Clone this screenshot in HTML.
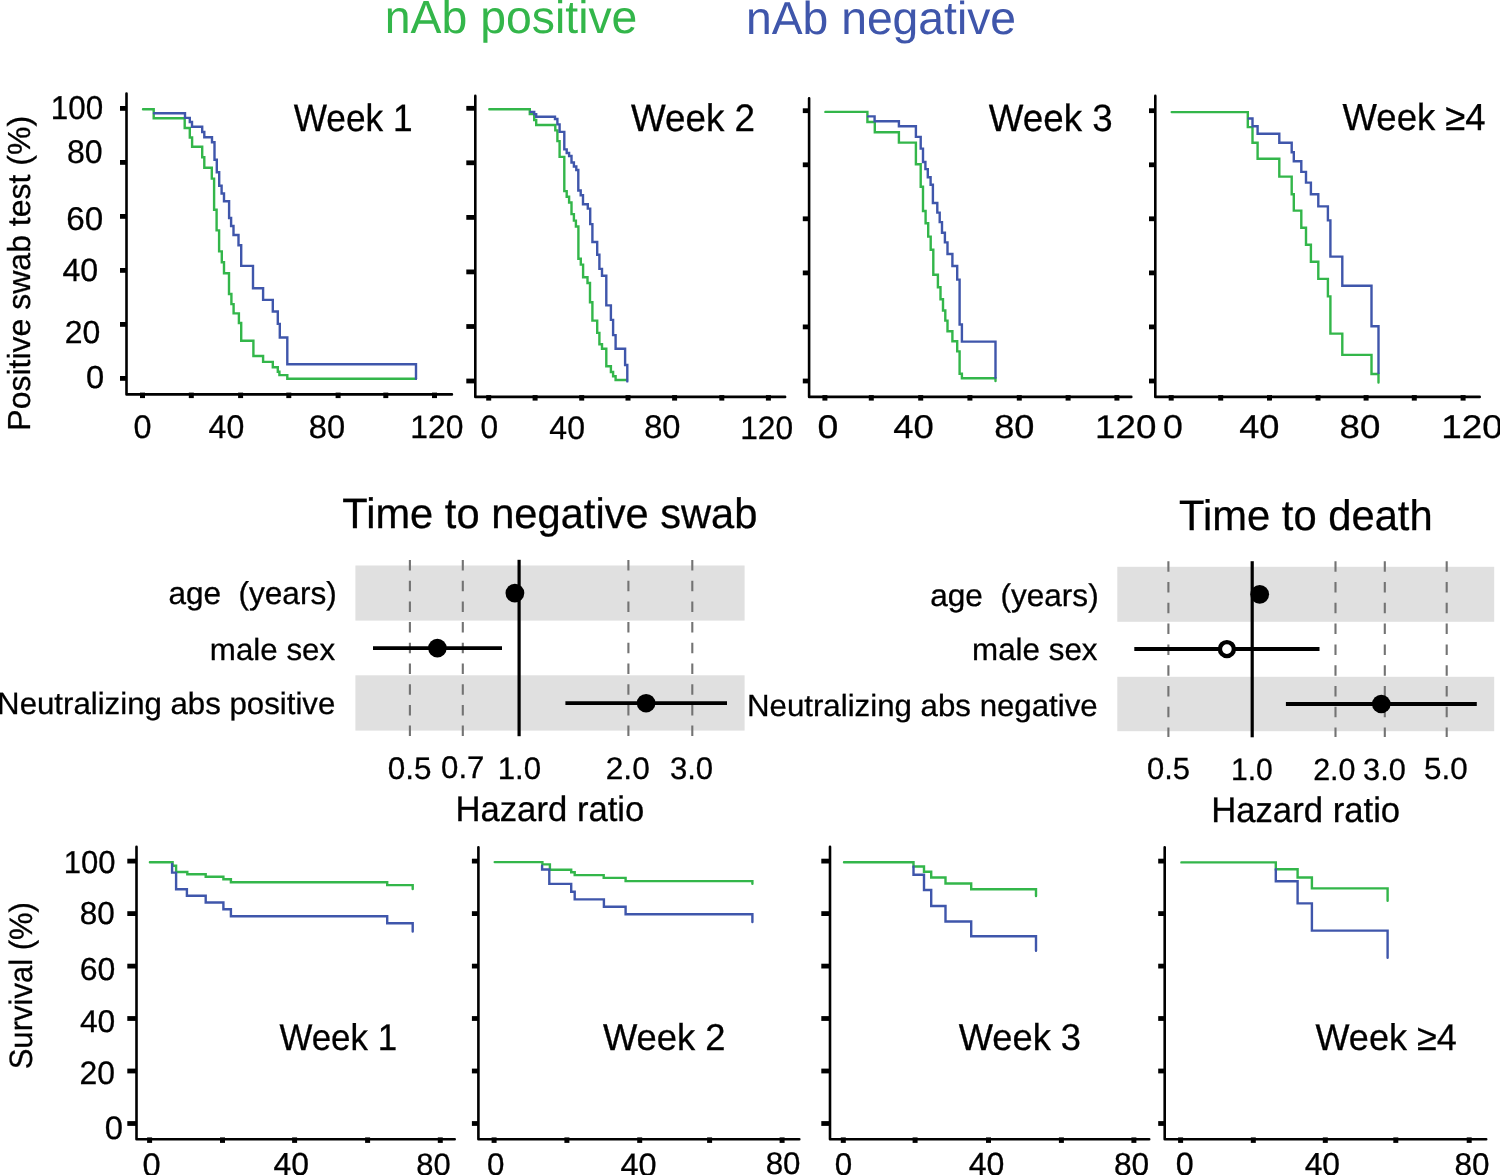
<!DOCTYPE html>
<html><head><meta charset="utf-8"><style>
html,body{margin:0;padding:0;background:#fff;width:1500px;height:1175px;overflow:hidden}
svg{display:block;will-change:transform}
text{font-family:"Liberation Sans",sans-serif;text-rendering:geometricPrecision}
</style></head><body>
<svg width="1500" height="1175" viewBox="0 0 1500 1175">
<path d="M126.5,93.6 L126.5,394.4 L451.9,394.4" fill="none" stroke="#000" stroke-width="2.6" stroke-linejoin="round" stroke-linecap="round"/>
<line x1="120" y1="108.4" x2="126.5" y2="108.4" stroke="#000" stroke-width="4.8" stroke-linecap="butt"/>
<line x1="120" y1="162.4" x2="126.5" y2="162.4" stroke="#000" stroke-width="4.8" stroke-linecap="butt"/>
<line x1="120" y1="216.4" x2="126.5" y2="216.4" stroke="#000" stroke-width="4.8" stroke-linecap="butt"/>
<line x1="120" y1="270.4" x2="126.5" y2="270.4" stroke="#000" stroke-width="4.8" stroke-linecap="butt"/>
<line x1="120" y1="324.4" x2="126.5" y2="324.4" stroke="#000" stroke-width="4.8" stroke-linecap="butt"/>
<line x1="120" y1="378.4" x2="126.5" y2="378.4" stroke="#000" stroke-width="4.8" stroke-linecap="butt"/>
<line x1="142.5" y1="392.6" x2="142.5" y2="398.1" stroke="#000" stroke-width="5.0" stroke-linecap="butt"/>
<line x1="191.3" y1="392.6" x2="191.3" y2="398.1" stroke="#000" stroke-width="5.0" stroke-linecap="butt"/>
<line x1="240.6" y1="392.6" x2="240.6" y2="398.1" stroke="#000" stroke-width="5.0" stroke-linecap="butt"/>
<line x1="288.8" y1="392.6" x2="288.8" y2="398.1" stroke="#000" stroke-width="5.0" stroke-linecap="butt"/>
<line x1="338.1" y1="392.6" x2="338.1" y2="398.1" stroke="#000" stroke-width="5.0" stroke-linecap="butt"/>
<line x1="385.8" y1="392.6" x2="385.8" y2="398.1" stroke="#000" stroke-width="5.0" stroke-linecap="butt"/>
<line x1="434.5" y1="392.6" x2="434.5" y2="398.1" stroke="#000" stroke-width="5.0" stroke-linecap="butt"/>
<path d="M475.3,95.89999999999999 L475.3,396.9 L785.1,396.9" fill="none" stroke="#000" stroke-width="2.6" stroke-linejoin="round" stroke-linecap="round"/>
<line x1="466.3" y1="108.3" x2="475.3" y2="108.3" stroke="#000" stroke-width="4.8" stroke-linecap="butt"/>
<line x1="466.3" y1="162.8" x2="475.3" y2="162.8" stroke="#000" stroke-width="4.8" stroke-linecap="butt"/>
<line x1="466.3" y1="217.4" x2="475.3" y2="217.4" stroke="#000" stroke-width="4.8" stroke-linecap="butt"/>
<line x1="466.3" y1="271.9" x2="475.3" y2="271.9" stroke="#000" stroke-width="4.8" stroke-linecap="butt"/>
<line x1="466.3" y1="326.5" x2="475.3" y2="326.5" stroke="#000" stroke-width="4.8" stroke-linecap="butt"/>
<line x1="466.3" y1="381" x2="475.3" y2="381" stroke="#000" stroke-width="4.8" stroke-linecap="butt"/>
<line x1="488.7" y1="395.1" x2="488.7" y2="400.6" stroke="#000" stroke-width="5.0" stroke-linecap="butt"/>
<line x1="535.1" y1="395.1" x2="535.1" y2="400.6" stroke="#000" stroke-width="5.0" stroke-linecap="butt"/>
<line x1="581.7" y1="395.1" x2="581.7" y2="400.6" stroke="#000" stroke-width="5.0" stroke-linecap="butt"/>
<line x1="628" y1="395.1" x2="628" y2="400.6" stroke="#000" stroke-width="5.0" stroke-linecap="butt"/>
<line x1="674.6" y1="395.1" x2="674.6" y2="400.6" stroke="#000" stroke-width="5.0" stroke-linecap="butt"/>
<line x1="721.8" y1="395.1" x2="721.8" y2="400.6" stroke="#000" stroke-width="5.0" stroke-linecap="butt"/>
<line x1="768.4" y1="395.1" x2="768.4" y2="400.6" stroke="#000" stroke-width="5.0" stroke-linecap="butt"/>
<path d="M809.1,98.2 L809.1,396.9 L1131.3,396.9" fill="none" stroke="#000" stroke-width="2.6" stroke-linejoin="round" stroke-linecap="round"/>
<line x1="802.8" y1="110.7" x2="809.1" y2="110.7" stroke="#000" stroke-width="4.8" stroke-linecap="butt"/>
<line x1="802.8" y1="164.8" x2="809.1" y2="164.8" stroke="#000" stroke-width="4.8" stroke-linecap="butt"/>
<line x1="802.8" y1="218.8" x2="809.1" y2="218.8" stroke="#000" stroke-width="4.8" stroke-linecap="butt"/>
<line x1="802.8" y1="272.9" x2="809.1" y2="272.9" stroke="#000" stroke-width="4.8" stroke-linecap="butt"/>
<line x1="802.8" y1="326.9" x2="809.1" y2="326.9" stroke="#000" stroke-width="4.8" stroke-linecap="butt"/>
<line x1="802.8" y1="381" x2="809.1" y2="381" stroke="#000" stroke-width="4.8" stroke-linecap="butt"/>
<line x1="824.9" y1="395.1" x2="824.9" y2="400.6" stroke="#000" stroke-width="5.0" stroke-linecap="butt"/>
<line x1="871.3" y1="395.1" x2="871.3" y2="400.6" stroke="#000" stroke-width="5.0" stroke-linecap="butt"/>
<line x1="920.7" y1="395.1" x2="920.7" y2="400.6" stroke="#000" stroke-width="5.0" stroke-linecap="butt"/>
<line x1="969.9" y1="395.1" x2="969.9" y2="400.6" stroke="#000" stroke-width="5.0" stroke-linecap="butt"/>
<line x1="1019.3" y1="395.1" x2="1019.3" y2="400.6" stroke="#000" stroke-width="5.0" stroke-linecap="butt"/>
<line x1="1068.1" y1="395.1" x2="1068.1" y2="400.6" stroke="#000" stroke-width="5.0" stroke-linecap="butt"/>
<line x1="1116.9" y1="395.1" x2="1116.9" y2="400.6" stroke="#000" stroke-width="5.0" stroke-linecap="butt"/>
<path d="M1155.3,95.89999999999999 L1155.3,396.9 L1479.7,396.9" fill="none" stroke="#000" stroke-width="2.6" stroke-linejoin="round" stroke-linecap="round"/>
<line x1="1149" y1="110.7" x2="1155.3" y2="110.7" stroke="#000" stroke-width="4.8" stroke-linecap="butt"/>
<line x1="1149" y1="164.8" x2="1155.3" y2="164.8" stroke="#000" stroke-width="4.8" stroke-linecap="butt"/>
<line x1="1149" y1="218.8" x2="1155.3" y2="218.8" stroke="#000" stroke-width="4.8" stroke-linecap="butt"/>
<line x1="1149" y1="272.9" x2="1155.3" y2="272.9" stroke="#000" stroke-width="4.8" stroke-linecap="butt"/>
<line x1="1149" y1="326.9" x2="1155.3" y2="326.9" stroke="#000" stroke-width="4.8" stroke-linecap="butt"/>
<line x1="1149" y1="381" x2="1155.3" y2="381" stroke="#000" stroke-width="4.8" stroke-linecap="butt"/>
<line x1="1171.2" y1="395.1" x2="1171.2" y2="400.6" stroke="#000" stroke-width="5.0" stroke-linecap="butt"/>
<line x1="1220.7" y1="395.1" x2="1220.7" y2="400.6" stroke="#000" stroke-width="5.0" stroke-linecap="butt"/>
<line x1="1269.5" y1="395.1" x2="1269.5" y2="400.6" stroke="#000" stroke-width="5.0" stroke-linecap="butt"/>
<line x1="1318" y1="395.1" x2="1318" y2="400.6" stroke="#000" stroke-width="5.0" stroke-linecap="butt"/>
<line x1="1366.1" y1="395.1" x2="1366.1" y2="400.6" stroke="#000" stroke-width="5.0" stroke-linecap="butt"/>
<line x1="1414.3" y1="395.1" x2="1414.3" y2="400.6" stroke="#000" stroke-width="5.0" stroke-linecap="butt"/>
<line x1="1463.1" y1="395.1" x2="1463.1" y2="400.6" stroke="#000" stroke-width="5.0" stroke-linecap="butt"/>
<path d="M136.5,846.6999999999999 L136.5,1139.2 L454.7,1139.2" fill="none" stroke="#000" stroke-width="2.6" stroke-linejoin="round" stroke-linecap="round"/>
<line x1="127.3" y1="861.1" x2="136.5" y2="861.1" stroke="#000" stroke-width="4.8" stroke-linecap="butt"/>
<line x1="127.3" y1="913.6" x2="136.5" y2="913.6" stroke="#000" stroke-width="4.8" stroke-linecap="butt"/>
<line x1="127.3" y1="966.1" x2="136.5" y2="966.1" stroke="#000" stroke-width="4.8" stroke-linecap="butt"/>
<line x1="127.3" y1="1018.5" x2="136.5" y2="1018.5" stroke="#000" stroke-width="4.8" stroke-linecap="butt"/>
<line x1="127.3" y1="1071" x2="136.5" y2="1071" stroke="#000" stroke-width="4.8" stroke-linecap="butt"/>
<line x1="127.3" y1="1123.5" x2="136.5" y2="1123.5" stroke="#000" stroke-width="4.8" stroke-linecap="butt"/>
<line x1="149.6" y1="1137.4" x2="149.6" y2="1142.9" stroke="#000" stroke-width="5.0" stroke-linecap="butt"/>
<line x1="222.5" y1="1137.4" x2="222.5" y2="1142.9" stroke="#000" stroke-width="5.0" stroke-linecap="butt"/>
<line x1="294.6" y1="1137.4" x2="294.6" y2="1142.9" stroke="#000" stroke-width="5.0" stroke-linecap="butt"/>
<line x1="367.6" y1="1137.4" x2="367.6" y2="1142.9" stroke="#000" stroke-width="5.0" stroke-linecap="butt"/>
<line x1="440.3" y1="1137.4" x2="440.3" y2="1142.9" stroke="#000" stroke-width="5.0" stroke-linecap="butt"/>
<path d="M478.4,847.3 L478.4,1139.2 L799.3000000000001,1139.2" fill="none" stroke="#000" stroke-width="2.6" stroke-linejoin="round" stroke-linecap="round"/>
<line x1="471.9" y1="861.1" x2="478.4" y2="861.1" stroke="#000" stroke-width="4.8" stroke-linecap="butt"/>
<line x1="471.9" y1="913.6" x2="478.4" y2="913.6" stroke="#000" stroke-width="4.8" stroke-linecap="butt"/>
<line x1="471.9" y1="966.1" x2="478.4" y2="966.1" stroke="#000" stroke-width="4.8" stroke-linecap="butt"/>
<line x1="471.9" y1="1018.5" x2="478.4" y2="1018.5" stroke="#000" stroke-width="4.8" stroke-linecap="butt"/>
<line x1="471.9" y1="1071" x2="478.4" y2="1071" stroke="#000" stroke-width="4.8" stroke-linecap="butt"/>
<line x1="471.9" y1="1123.5" x2="478.4" y2="1123.5" stroke="#000" stroke-width="4.8" stroke-linecap="butt"/>
<line x1="494.1" y1="1137.4" x2="494.1" y2="1142.9" stroke="#000" stroke-width="5.0" stroke-linecap="butt"/>
<line x1="566.9" y1="1137.4" x2="566.9" y2="1142.9" stroke="#000" stroke-width="5.0" stroke-linecap="butt"/>
<line x1="639.7" y1="1137.4" x2="639.7" y2="1142.9" stroke="#000" stroke-width="5.0" stroke-linecap="butt"/>
<line x1="709.6" y1="1137.4" x2="709.6" y2="1142.9" stroke="#000" stroke-width="5.0" stroke-linecap="butt"/>
<line x1="782.1" y1="1137.4" x2="782.1" y2="1142.9" stroke="#000" stroke-width="5.0" stroke-linecap="butt"/>
<path d="M830.0,846.6999999999999 L830.0,1139.2 L1149.2,1139.2" fill="none" stroke="#000" stroke-width="2.6" stroke-linejoin="round" stroke-linecap="round"/>
<line x1="821.3" y1="861.1" x2="830.0" y2="861.1" stroke="#000" stroke-width="4.8" stroke-linecap="butt"/>
<line x1="821.3" y1="913.6" x2="830.0" y2="913.6" stroke="#000" stroke-width="4.8" stroke-linecap="butt"/>
<line x1="821.3" y1="966.1" x2="830.0" y2="966.1" stroke="#000" stroke-width="4.8" stroke-linecap="butt"/>
<line x1="821.3" y1="1018.5" x2="830.0" y2="1018.5" stroke="#000" stroke-width="4.8" stroke-linecap="butt"/>
<line x1="821.3" y1="1071" x2="830.0" y2="1071" stroke="#000" stroke-width="4.8" stroke-linecap="butt"/>
<line x1="821.3" y1="1123.5" x2="830.0" y2="1123.5" stroke="#000" stroke-width="4.8" stroke-linecap="butt"/>
<line x1="843.3" y1="1137.4" x2="843.3" y2="1142.9" stroke="#000" stroke-width="5.0" stroke-linecap="butt"/>
<line x1="915.1" y1="1137.4" x2="915.1" y2="1142.9" stroke="#000" stroke-width="5.0" stroke-linecap="butt"/>
<line x1="988.5" y1="1137.4" x2="988.5" y2="1142.9" stroke="#000" stroke-width="5.0" stroke-linecap="butt"/>
<line x1="1061.4" y1="1137.4" x2="1061.4" y2="1142.9" stroke="#000" stroke-width="5.0" stroke-linecap="butt"/>
<line x1="1133.9" y1="1137.4" x2="1133.9" y2="1142.9" stroke="#000" stroke-width="5.0" stroke-linecap="butt"/>
<path d="M1164.7,847.3 L1164.7,1139.2 L1486.2,1139.2" fill="none" stroke="#000" stroke-width="2.6" stroke-linejoin="round" stroke-linecap="round"/>
<line x1="1158.2" y1="861.1" x2="1164.7" y2="861.1" stroke="#000" stroke-width="4.8" stroke-linecap="butt"/>
<line x1="1158.2" y1="913.6" x2="1164.7" y2="913.6" stroke="#000" stroke-width="4.8" stroke-linecap="butt"/>
<line x1="1158.2" y1="966.1" x2="1164.7" y2="966.1" stroke="#000" stroke-width="4.8" stroke-linecap="butt"/>
<line x1="1158.2" y1="1018.5" x2="1164.7" y2="1018.5" stroke="#000" stroke-width="4.8" stroke-linecap="butt"/>
<line x1="1158.2" y1="1071" x2="1164.7" y2="1071" stroke="#000" stroke-width="4.8" stroke-linecap="butt"/>
<line x1="1158.2" y1="1123.5" x2="1164.7" y2="1123.5" stroke="#000" stroke-width="4.8" stroke-linecap="butt"/>
<line x1="1180.6" y1="1137.4" x2="1180.6" y2="1142.9" stroke="#000" stroke-width="5.0" stroke-linecap="butt"/>
<line x1="1253.3" y1="1137.4" x2="1253.3" y2="1142.9" stroke="#000" stroke-width="5.0" stroke-linecap="butt"/>
<line x1="1325.3" y1="1137.4" x2="1325.3" y2="1142.9" stroke="#000" stroke-width="5.0" stroke-linecap="butt"/>
<line x1="1395.8" y1="1137.4" x2="1395.8" y2="1142.9" stroke="#000" stroke-width="5.0" stroke-linecap="butt"/>
<line x1="1469.2" y1="1137.4" x2="1469.2" y2="1142.9" stroke="#000" stroke-width="5.0" stroke-linecap="butt"/>
<path d="M143.0,109.3 L153.7,109.3 L153.7,118.2 L184.7,118.2 L184.7,128.0 L189.8,128.0 L189.8,137.5 L192.1,137.5 L192.1,146.7 L202.2,146.7 L202.2,157.2 L204.3,157.2 L204.3,167.7 L211.8,167.7 L211.8,178.6 L214.1,178.6 L214.1,209.8 L216.6,209.8 L216.6,230.4 L219.1,230.4 L219.1,251.4 L221.8,251.4 L221.8,262.3 L224.0,262.3 L224.0,273.3 L229.0,273.3 L229.0,294.0 L231.4,294.0 L231.4,304.1 L233.6,304.1 L233.6,313.4 L238.9,313.4 L238.9,323.0 L241.2,323.0 L241.2,340.8 L253.4,340.8 L253.4,356.0 L263.1,356.0 L263.1,361.9 L272.8,361.9 L272.8,367.2 L277.8,367.2 L277.8,371.8 L279.4,371.8 L279.4,375.1 L287.3,375.1 L287.3,378.8 L416.0,378.8" fill="none" stroke="#33b64a" stroke-width="2.4" stroke-linejoin="miter" stroke-linecap="round"/>
<path d="M154.0,113.3 L185.0,113.3 L185.0,117.9 L189.8,117.9 L189.8,122.0 L192.0,122.0 L192.0,126.8 L202.2,126.8 L202.2,132.0 L204.3,132.0 L204.3,137.2 L212.0,137.2 L212.0,142.3 L214.5,142.3 L214.5,159.8 L216.8,159.8 L216.8,172.3 L219.2,172.3 L219.2,185.8 L221.6,185.8 L221.6,193.5 L224.0,193.5 L224.0,201.3 L229.1,201.3 L229.1,218.0 L231.1,218.0 L231.1,226.0 L233.5,226.0 L233.5,235.0 L238.5,235.0 L238.5,245.2 L241.2,245.2 L241.2,265.9 L253.0,265.9 L253.0,288.3 L263.1,288.3 L263.1,299.9 L272.8,299.9 L272.8,311.5 L277.8,311.5 L277.8,323.9 L279.8,323.9 L279.8,337.5 L287.3,337.5 L287.3,364.3 L416.0,364.3 L416.0,378.8" fill="none" stroke="#3f56ab" stroke-width="2.4" stroke-linejoin="miter" stroke-linecap="round"/>
<path d="M489.3,109.3 L529.8,109.3 L529.8,114.1 L534.2,114.1 L534.2,120.0 L536.2,120.0 L536.2,125.0 L555.3,125.0 L555.3,130.4 L557.4,130.4 L557.4,141.1 L559.6,141.1 L559.6,156.9 L564.3,156.9 L564.3,191.1 L566.7,191.1 L566.7,196.7 L569.1,196.7 L569.1,202.5 L571.5,202.5 L571.5,214.1 L573.9,214.1 L573.9,220.6 L575.9,220.6 L575.9,226.5 L578.4,226.5 L578.4,258.8 L580.8,258.8 L580.8,264.6 L583.1,264.6 L583.1,277.2 L587.5,277.2 L587.5,283.0 L590.0,283.0 L590.0,302.2 L592.4,302.2 L592.4,320.6 L597.2,320.6 L597.2,332.9 L599.4,332.9 L599.4,344.2 L602.0,344.2 L602.0,348.8 L606.3,348.8 L606.3,366.2 L610.9,366.2 L610.9,372.0 L613.1,372.0 L613.1,376.3 L615.6,376.3 L615.6,380.0 L627.0,380.0" fill="none" stroke="#33b64a" stroke-width="2.4" stroke-linejoin="miter" stroke-linecap="round"/>
<path d="M530.6,111.9 L534.2,111.9 L534.2,114.1 L536.2,114.1 L536.2,116.7 L555.0,116.7 L555.0,119.0 L557.4,119.0 L557.4,124.4 L559.6,124.4 L559.6,131.9 L564.3,131.9 L564.3,149.4 L566.7,149.4 L566.7,153.0 L569.1,153.0 L569.1,156.0 L571.5,156.0 L571.5,162.5 L573.9,162.5 L573.9,166.5 L576.3,166.5 L576.3,170.0 L578.3,170.0 L578.3,190.5 L580.7,190.5 L580.7,195.3 L583.0,195.3 L583.0,204.2 L587.8,204.2 L587.8,208.6 L590.2,208.6 L590.2,224.1 L592.4,224.1 L592.4,242.0 L597.2,242.0 L597.2,254.7 L599.4,254.7 L599.4,268.9 L602.0,268.9 L602.0,275.7 L606.3,275.7 L606.3,305.4 L610.9,305.4 L610.9,319.9 L613.1,319.9 L613.1,335.1 L615.6,335.1 L615.6,348.8 L625.1,348.8 L625.1,365.0 L627.3,365.0 L627.3,381.4" fill="none" stroke="#3f56ab" stroke-width="2.4" stroke-linejoin="miter" stroke-linecap="round"/>
<path d="M825.4,111.9 L867.4,111.9 L867.4,122.0 L874.8,122.0 L874.8,132.2 L898.9,132.2 L898.9,142.6 L915.9,142.6 L915.9,164.3 L920.7,164.3 L920.7,186.7 L923.0,186.7 L923.0,211.0 L925.6,211.0 L925.6,223.3 L928.2,223.3 L928.2,236.6 L930.7,236.6 L930.7,249.7 L933.3,249.7 L933.3,274.7 L937.9,274.7 L937.9,287.3 L940.5,287.3 L940.5,299.3 L943.0,299.3 L943.0,310.5 L945.3,310.5 L945.3,320.6 L947.5,320.6 L947.5,331.2 L952.4,331.2 L952.4,341.3 L957.2,341.3 L957.2,351.4 L959.6,351.4 L959.6,373.7 L961.9,373.7 L961.9,378.2 L995.5,378.2 L995.5,381.0" fill="none" stroke="#33b64a" stroke-width="2.4" stroke-linejoin="miter" stroke-linecap="round"/>
<path d="M868.2,116.4 L874.6,116.4 L874.6,121.2 L898.9,121.2 L898.9,126.2 L915.9,126.2 L915.9,136.9 L920.7,136.9 L920.7,148.6 L923.0,148.6 L923.0,162.0 L925.4,162.0 L925.4,169.1 L927.8,169.1 L927.8,177.2 L930.6,177.2 L930.6,184.8 L932.9,184.8 L932.9,203.0 L937.3,203.0 L937.3,212.6 L939.7,212.6 L939.7,222.1 L942.0,222.1 L942.0,232.7 L944.9,232.7 L944.9,242.4 L947.5,242.4 L947.5,254.0 L952.4,254.0 L952.4,266.0 L957.2,266.0 L957.2,279.6 L959.6,279.6 L959.6,324.5 L961.9,324.5 L961.9,341.6 L995.5,341.6 L995.5,377.8" fill="none" stroke="#3f56ab" stroke-width="2.4" stroke-linejoin="miter" stroke-linecap="round"/>
<path d="M1171.7,112.1 L1247.8,112.1 L1247.8,127.1 L1252.5,127.1 L1252.5,142.8 L1257.6,142.8 L1257.6,158.7 L1279.3,158.7 L1279.3,176.6 L1291.7,176.6 L1291.7,194.3 L1293.8,194.3 L1293.8,210.6 L1301.3,210.6 L1301.3,227.7 L1306.0,227.7 L1306.0,244.7 L1310.9,244.7 L1310.9,261.7 L1318.3,261.7 L1318.3,278.9 L1327.9,278.9 L1327.9,296.4 L1330.4,296.4 L1330.4,333.6 L1342.3,333.6 L1342.3,354.9 L1371.5,354.9 L1371.5,374.0 L1378.5,374.0 L1378.5,382.6" fill="none" stroke="#33b64a" stroke-width="2.4" stroke-linejoin="miter" stroke-linecap="round"/>
<path d="M1248.7,118.5 L1252.5,118.5 L1252.5,126.2 L1257.6,126.2 L1257.6,133.8 L1279.3,133.8 L1279.3,142.8 L1291.7,142.8 L1291.7,152.3 L1293.8,152.3 L1293.8,161.3 L1301.3,161.3 L1301.3,171.9 L1306.0,171.9 L1306.0,182.6 L1310.9,182.6 L1310.9,194.3 L1318.3,194.3 L1318.3,206.4 L1327.9,206.4 L1327.9,220.4 L1330.4,220.4 L1330.4,256.6 L1342.3,256.6 L1342.3,285.7 L1371.5,285.7 L1371.5,326.2 L1378.5,326.2 L1378.5,373.0" fill="none" stroke="#3f56ab" stroke-width="2.4" stroke-linejoin="miter" stroke-linecap="round"/>
<path d="M149.9,862.3 L172.6,862.3 L172.6,865.7 L176.1,865.7 L176.1,872.0 L187.3,872.0 L187.3,874.2 L205.7,874.2 L205.7,876.8 L223.4,876.8 L223.4,879.3 L230.9,879.3 L230.9,882.2 L387.2,882.2 L387.2,885.1 L412.7,885.1 L412.7,889.1" fill="none" stroke="#33b64a" stroke-width="2.4" stroke-linejoin="miter" stroke-linecap="round"/>
<path d="M172.1,864.0 L172.1,872.6 L176.1,872.6 L176.1,889.2 L186.9,889.2 L186.9,895.7 L205.7,895.7 L205.7,902.5 L223.4,902.5 L223.4,909.3 L230.9,909.3 L230.9,916.3 L387.2,916.3 L387.2,923.2 L412.7,923.2 L412.7,931.6" fill="none" stroke="#3f56ab" stroke-width="2.4" stroke-linejoin="miter" stroke-linecap="round"/>
<path d="M494.7,862.1 L542.4,862.1 L542.4,864.4 L549.9,864.4 L549.9,869.7 L571.2,869.7 L571.2,872.2 L574.7,872.2 L574.7,875.1 L603.7,875.1 L603.7,877.9 L625.6,877.9 L625.6,881.1 L752.4,881.1 L752.4,883.8" fill="none" stroke="#33b64a" stroke-width="2.4" stroke-linejoin="miter" stroke-linecap="round"/>
<path d="M542.1,865.8 L542.1,869.5 L549.3,869.5 L549.3,883.9 L571.2,883.9 L571.2,891.7 L574.7,891.7 L574.7,899.4 L603.9,899.4 L603.9,906.7 L625.6,906.7 L625.6,914.3 L752.4,914.3 L752.4,922.0" fill="none" stroke="#3f56ab" stroke-width="2.4" stroke-linejoin="miter" stroke-linecap="round"/>
<path d="M844.0,862.2 L913.5,862.2 L913.5,866.5 L924.0,866.5 L924.0,871.8 L931.2,871.8 L931.2,877.5 L945.5,877.5 L945.5,883.5 L971.2,883.5 L971.2,889.2 L1036.0,889.2 L1036.0,896.0" fill="none" stroke="#33b64a" stroke-width="2.4" stroke-linejoin="miter" stroke-linecap="round"/>
<path d="M913.5,866.5 L913.5,874.8 L924.0,874.8 L924.0,890.0 L931.2,890.0 L931.2,906.0 L945.5,906.0 L945.5,921.5 L971.2,921.5 L971.2,936.2 L1036.0,936.2 L1036.0,950.8" fill="none" stroke="#3f56ab" stroke-width="2.4" stroke-linejoin="miter" stroke-linecap="round"/>
<path d="M1181.4,862.4 L1275.8,862.4 L1275.8,869.3 L1297.6,869.3 L1297.6,877.5 L1311.9,877.5 L1311.9,888.4 L1387.6,888.4 L1387.6,900.7" fill="none" stroke="#33b64a" stroke-width="2.4" stroke-linejoin="miter" stroke-linecap="round"/>
<path d="M1275.8,869.3 L1275.8,881.3 L1297.6,881.3 L1297.6,903.4 L1311.9,903.4 L1311.9,930.6 L1387.6,930.6 L1387.6,957.8" fill="none" stroke="#3f56ab" stroke-width="2.4" stroke-linejoin="miter" stroke-linecap="round"/>
<rect x="355.4" y="565.5" width="389.2" height="55.1" fill="#e0e0e0"/>
<rect x="355.4" y="675.3" width="389.2" height="55.3" fill="#e0e0e0"/>
<line x1="409.9" y1="560" x2="409.9" y2="736" stroke="#737373" stroke-width="2.1" stroke-linecap="butt" stroke-dasharray="10.5 10.2"/>
<line x1="462.8" y1="560" x2="462.8" y2="736" stroke="#737373" stroke-width="2.1" stroke-linecap="butt" stroke-dasharray="10.5 10.2"/>
<line x1="628.4" y1="560" x2="628.4" y2="736" stroke="#737373" stroke-width="2.1" stroke-linecap="butt" stroke-dasharray="10.5 10.2"/>
<line x1="692.3" y1="560" x2="692.3" y2="736" stroke="#737373" stroke-width="2.1" stroke-linecap="butt" stroke-dasharray="10.5 10.2"/>
<line x1="519.1" y1="559.8" x2="519.1" y2="736.2" stroke="#000" stroke-width="3.2" stroke-linecap="butt"/>
<line x1="373" y1="648.1" x2="502" y2="648.1" stroke="#000" stroke-width="3.8" stroke-linecap="butt"/>
<line x1="565.4" y1="703.2" x2="727" y2="703.2" stroke="#000" stroke-width="3.8" stroke-linecap="butt"/>
<circle cx="514.9" cy="593.1" r="9.4" fill="#000"/>
<circle cx="437.4" cy="648.1" r="9.3" fill="#000"/>
<circle cx="646.1" cy="703.2" r="9.3" fill="#000"/>
<rect x="1117.3" y="566.8" width="376.9" height="55.0" fill="#e0e0e0"/>
<rect x="1117.3" y="676.8" width="376.9" height="54.4" fill="#e0e0e0"/>
<line x1="1168.4" y1="561.2" x2="1168.4" y2="737" stroke="#737373" stroke-width="2.1" stroke-linecap="butt" stroke-dasharray="10.5 10.3"/>
<line x1="1335.5" y1="561.2" x2="1335.5" y2="737" stroke="#737373" stroke-width="2.1" stroke-linecap="butt" stroke-dasharray="10.5 10.3"/>
<line x1="1384.8" y1="561.2" x2="1384.8" y2="737" stroke="#737373" stroke-width="2.1" stroke-linecap="butt" stroke-dasharray="10.5 10.3"/>
<line x1="1446.7" y1="561.2" x2="1446.7" y2="737" stroke="#737373" stroke-width="2.1" stroke-linecap="butt" stroke-dasharray="10.5 10.3"/>
<line x1="1252.2" y1="561.2" x2="1252.2" y2="737.3" stroke="#000" stroke-width="3.2" stroke-linecap="butt"/>
<line x1="1134.3" y1="649" x2="1319.5" y2="649" stroke="#000" stroke-width="4" stroke-linecap="butt"/>
<line x1="1285.9" y1="704" x2="1476.8" y2="704" stroke="#000" stroke-width="4" stroke-linecap="butt"/>
<circle cx="1259.7" cy="594.3" r="9.4" fill="#000"/>
<circle cx="1226.9" cy="649.1" r="7" fill="#fff" stroke="#000" stroke-width="4.4"/>
<circle cx="1381.3" cy="704" r="9.3" fill="#000"/>
<text transform="translate(384.77,33.33) scale(0.9867,0.9867)" font-size="47.00" fill="#33b64a" xml:space="preserve">nAb positive</text>
<text transform="translate(745.96,33.89) scale(0.9845,0.9845)" font-size="47.00" fill="#3f56ab" xml:space="preserve">nAb negative</text>
<text transform="translate(30.49,430.64) rotate(-90) scale(0.9998,0.9948)" font-size="32.00" fill="#000" stroke="#000" stroke-width="0.300" xml:space="preserve">Positive swab test (%)</text>
<text transform="translate(50.85,118.62) scale(0.9501,1.0029)" font-size="33.00" fill="#000" stroke="#000" stroke-width="0.299" xml:space="preserve">100</text>
<text transform="translate(66.92,162.88) scale(0.9742,0.9957)" font-size="33.00" fill="#000" stroke="#000" stroke-width="0.301" xml:space="preserve">80</text>
<text transform="translate(66.32,230.39) scale(1.0062,0.9973)" font-size="33.00" fill="#000" stroke="#000" stroke-width="0.298" xml:space="preserve">60</text>
<text transform="translate(62.48,281.08) scale(0.9747,0.9735)" font-size="33.00" fill="#000" stroke="#000" stroke-width="0.308" xml:space="preserve">40</text>
<text transform="translate(64.76,342.88) scale(0.9693,0.9638)" font-size="33.00" fill="#000" stroke="#000" stroke-width="0.310" xml:space="preserve">20</text>
<text transform="translate(85.93,387.79) scale(0.9925,0.9607)" font-size="33.00" fill="#000" stroke="#000" stroke-width="0.302" xml:space="preserve">0</text>
<text transform="translate(133.39,438.00) scale(0.9808,0.9882)" font-size="33.00" fill="#000" stroke="#000" stroke-width="0.304" xml:space="preserve">0</text>
<text transform="translate(208.54,438.45) scale(0.9728,0.9941)" font-size="33.00" fill="#000" stroke="#000" stroke-width="0.302" xml:space="preserve">40</text>
<text transform="translate(308.83,438.28) scale(0.9905,0.9852)" font-size="33.00" fill="#000" stroke="#000" stroke-width="0.303" xml:space="preserve">80</text>
<text transform="translate(410.36,438.46) scale(0.9644,0.9855)" font-size="33.00" fill="#000" stroke="#000" stroke-width="0.304" xml:space="preserve">120</text>
<text transform="translate(480.50,438.03) scale(0.9618,0.9855)" font-size="33.00" fill="#000" stroke="#000" stroke-width="0.304" xml:space="preserve">0</text>
<text transform="translate(549.35,438.57) scale(0.9697,0.9913)" font-size="33.00" fill="#000" stroke="#000" stroke-width="0.303" xml:space="preserve">40</text>
<text transform="translate(644.22,437.99) scale(0.9890,0.9974)" font-size="33.00" fill="#000" stroke="#000" stroke-width="0.301" xml:space="preserve">80</text>
<text transform="translate(740.14,438.57) scale(0.9613,0.9858)" font-size="33.00" fill="#000" stroke="#000" stroke-width="0.304" xml:space="preserve">120</text>
<text transform="translate(817.48,438.08) scale(1.1359,0.9974)" font-size="33.00" fill="#000" stroke="#000" stroke-width="0.264" xml:space="preserve">0</text>
<text transform="translate(893.13,437.75) scale(1.1050,0.9977)" font-size="33.00" fill="#000" stroke="#000" stroke-width="0.272" xml:space="preserve">40</text>
<text transform="translate(994.18,438.03) scale(1.0970,1.0033)" font-size="33.00" fill="#000" stroke="#000" stroke-width="0.273" xml:space="preserve">80</text>
<text transform="translate(1094.94,437.83) scale(1.1154,0.9971)" font-size="33.00" fill="#000" stroke="#000" stroke-width="0.269" xml:space="preserve">120</text>
<text transform="translate(1162.96,438.47) scale(1.0803,1.0008)" font-size="33.00" fill="#000" stroke="#000" stroke-width="0.278" xml:space="preserve">0</text>
<text transform="translate(1239.17,437.77) scale(1.0972,1.0026)" font-size="33.00" fill="#000" stroke="#000" stroke-width="0.273" xml:space="preserve">40</text>
<text transform="translate(1339.52,438.03) scale(1.1118,0.9989)" font-size="33.00" fill="#000" stroke="#000" stroke-width="0.270" xml:space="preserve">80</text>
<text transform="translate(1441.14,437.75) scale(1.1185,0.9983)" font-size="33.00" fill="#000" stroke="#000" stroke-width="0.268" xml:space="preserve">120</text>
<text transform="translate(293.70,131.12) scale(0.9536,1.0338)" font-size="37.00" fill="#000" stroke="#000" stroke-width="0.290" xml:space="preserve">Week 1</text>
<text transform="translate(631.05,131.13) scale(0.9941,1.0349)" font-size="37.00" fill="#000" stroke="#000" stroke-width="0.290" xml:space="preserve">Week 2</text>
<text transform="translate(988.83,131.13) scale(0.9926,1.0296)" font-size="37.00" fill="#000" stroke="#000" stroke-width="0.291" xml:space="preserve">Week 3</text>
<text transform="translate(1342.58,130.30) scale(0.9860,1.0208)" font-size="37.00" fill="#000" stroke="#000" stroke-width="0.294" xml:space="preserve">Week ≥4</text>
<text transform="translate(342.26,528.38) scale(1.0159,1.0359)" font-size="41.00" fill="#000" stroke="#000" stroke-width="0.290" xml:space="preserve">Time to negative swab</text>
<text transform="translate(168.43,604.17) scale(1.0172,1.0208)" font-size="31.00" fill="#000" stroke="#000" stroke-width="0.294" xml:space="preserve">age  (years)</text>
<text transform="translate(209.86,659.56) scale(1.0102,0.9871)" font-size="31.00" fill="#000" stroke="#000" stroke-width="0.297" xml:space="preserve">male sex</text>
<text transform="translate(-2.90,713.77) scale(1.0065,0.9937)" font-size="31.00" fill="#000" stroke="#000" stroke-width="0.298" xml:space="preserve">Neutralizing abs positive</text>
<text transform="translate(387.82,778.79) scale(1.0150,1.0050)" font-size="31.00" fill="#000" stroke="#000" stroke-width="0.296" xml:space="preserve">0.5</text>
<text transform="translate(441.09,778.12) scale(1.0062,1.0060)" font-size="31.00" fill="#000" stroke="#000" stroke-width="0.298" xml:space="preserve">0.7</text>
<text transform="translate(497.63,779.06) scale(1.0078,1.0038)" font-size="31.00" fill="#000" stroke="#000" stroke-width="0.298" xml:space="preserve">1.0</text>
<text transform="translate(605.76,778.91) scale(1.0204,1.0043)" font-size="31.00" fill="#000" stroke="#000" stroke-width="0.294" xml:space="preserve">2.0</text>
<text transform="translate(669.89,778.61) scale(1.0040,1.0091)" font-size="31.00" fill="#000" stroke="#000" stroke-width="0.297" xml:space="preserve">3.0</text>
<text transform="translate(455.45,820.67) scale(1.0200,1.0358)" font-size="34.00" fill="#000" stroke="#000" stroke-width="0.290" xml:space="preserve">Hazard ratio</text>
<text transform="translate(1179.00,529.97) scale(1.0180,1.0404)" font-size="41.00" fill="#000" stroke="#000" stroke-width="0.288" xml:space="preserve">Time to death</text>
<text transform="translate(930.26,605.51) scale(1.0181,1.0105)" font-size="31.00" fill="#000" stroke="#000" stroke-width="0.295" xml:space="preserve">age  (years)</text>
<text transform="translate(972.10,660.43) scale(1.0107,0.9995)" font-size="31.00" fill="#000" stroke="#000" stroke-width="0.297" xml:space="preserve">male sex</text>
<text transform="translate(747.00,715.84) scale(1.0075,0.9871)" font-size="31.00" fill="#000" stroke="#000" stroke-width="0.298" xml:space="preserve">Neutralizing abs negative</text>
<text transform="translate(1146.99,779.39) scale(0.9990,0.9875)" font-size="31.00" fill="#000" stroke="#000" stroke-width="0.300" xml:space="preserve">0.5</text>
<text transform="translate(1230.97,779.67) scale(0.9708,0.9957)" font-size="31.00" fill="#000" stroke="#000" stroke-width="0.301" xml:space="preserve">1.0</text>
<text transform="translate(1313.16,779.94) scale(0.9827,0.9924)" font-size="31.00" fill="#000" stroke="#000" stroke-width="0.302" xml:space="preserve">2.0</text>
<text transform="translate(1363.07,779.51) scale(0.9911,0.9876)" font-size="31.00" fill="#000" stroke="#000" stroke-width="0.303" xml:space="preserve">3.0</text>
<text transform="translate(1423.95,779.28) scale(1.0131,0.9874)" font-size="31.00" fill="#000" stroke="#000" stroke-width="0.296" xml:space="preserve">5.0</text>
<text transform="translate(1211.17,821.95) scale(1.0205,1.0438)" font-size="34.00" fill="#000" stroke="#000" stroke-width="0.287" xml:space="preserve">Hazard ratio</text>
<text transform="translate(31.94,1069.33) rotate(-90) scale(0.9699,1.0115)" font-size="32.00" fill="#000" stroke="#000" stroke-width="0.297" xml:space="preserve">Survival (%)</text>
<text transform="translate(63.70,873.20) scale(0.9697,0.9915)" font-size="32.00" fill="#000" stroke="#000" stroke-width="0.303" xml:space="preserve">100</text>
<text transform="translate(79.70,923.59) scale(0.9842,0.9932)" font-size="32.00" fill="#000" stroke="#000" stroke-width="0.302" xml:space="preserve">80</text>
<text transform="translate(79.66,980.26) scale(0.9991,0.9925)" font-size="32.00" fill="#000" stroke="#000" stroke-width="0.300" xml:space="preserve">60</text>
<text transform="translate(79.89,1032.40) scale(0.9951,0.9820)" font-size="32.00" fill="#000" stroke="#000" stroke-width="0.301" xml:space="preserve">40</text>
<text transform="translate(79.61,1084.41) scale(0.9957,1.0154)" font-size="32.00" fill="#000" stroke="#000" stroke-width="0.295" xml:space="preserve">20</text>
<text transform="translate(104.77,1138.66) scale(1.0236,1.0142)" font-size="32.00" fill="#000" stroke="#000" stroke-width="0.293" xml:space="preserve">0</text>
<text transform="translate(142.45,1175.64) scale(1.0179,1.0179)" font-size="32.00" fill="#000" stroke="#000" stroke-width="0.295" xml:space="preserve">0</text>
<text transform="translate(273.61,1174.73) scale(0.9976,0.9976)" font-size="32.00" fill="#000" stroke="#000" stroke-width="0.301" xml:space="preserve">40</text>
<text transform="translate(416.21,1174.85) scale(0.9660,0.9660)" font-size="32.00" fill="#000" stroke="#000" stroke-width="0.311" xml:space="preserve">80</text>
<text transform="translate(487.02,1174.75) scale(0.9789,0.9789)" font-size="32.00" fill="#000" stroke="#000" stroke-width="0.306" xml:space="preserve">0</text>
<text transform="translate(620.52,1175.81) scale(1.0158,1.0158)" font-size="32.00" fill="#000" stroke="#000" stroke-width="0.295" xml:space="preserve">40</text>
<text transform="translate(765.65,1174.13) scale(0.9762,0.9762)" font-size="32.00" fill="#000" stroke="#000" stroke-width="0.307" xml:space="preserve">80</text>
<text transform="translate(834.70,1174.54) scale(0.9809,0.9809)" font-size="32.00" fill="#000" stroke="#000" stroke-width="0.306" xml:space="preserve">0</text>
<text transform="translate(968.63,1174.99) scale(1.0028,1.0028)" font-size="32.00" fill="#000" stroke="#000" stroke-width="0.299" xml:space="preserve">40</text>
<text transform="translate(1113.88,1175.09) scale(0.9902,0.9902)" font-size="32.00" fill="#000" stroke="#000" stroke-width="0.303" xml:space="preserve">80</text>
<text transform="translate(1175.67,1175.02) scale(1.0084,1.0084)" font-size="32.00" fill="#000" stroke="#000" stroke-width="0.297" xml:space="preserve">0</text>
<text transform="translate(1304.63,1175.39) scale(0.9946,0.9946)" font-size="32.00" fill="#000" stroke="#000" stroke-width="0.302" xml:space="preserve">40</text>
<text transform="translate(1454.39,1175.16) scale(0.9833,0.9833)" font-size="32.00" fill="#000" stroke="#000" stroke-width="0.305" xml:space="preserve">80</text>
<text transform="translate(279.38,1050.18) scale(0.9692,1.0312)" font-size="36.00" fill="#000" stroke="#000" stroke-width="0.291" xml:space="preserve">Week 1</text>
<text transform="translate(602.92,1050.28) scale(1.0103,1.0358)" font-size="36.00" fill="#000" stroke="#000" stroke-width="0.290" xml:space="preserve">Week 2</text>
<text transform="translate(958.75,1049.84) scale(1.0074,1.0377)" font-size="36.00" fill="#000" stroke="#000" stroke-width="0.289" xml:space="preserve">Week 3</text>
<text transform="translate(1315.49,1049.58) scale(1.0008,1.0340)" font-size="36.00" fill="#000" stroke="#000" stroke-width="0.290" xml:space="preserve">Week ≥4</text>
</svg></body></html>
